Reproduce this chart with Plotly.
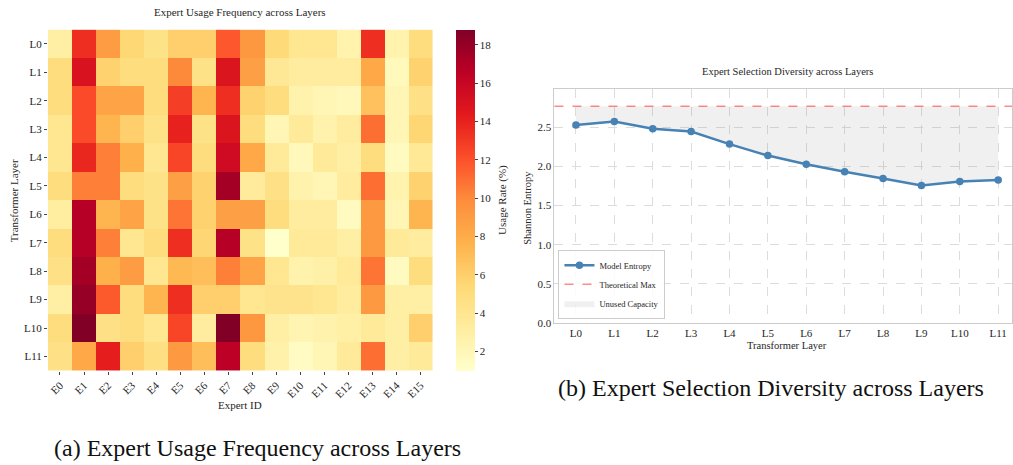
import plotly.graph_objects as go
import plotly.colors as pc
import math

W, H = 1013, 465

layers = [f"L{i}" for i in range(12)]
experts = [f"E{i}" for i in range(16)]

usage = [
    [3.0, 13.5, 9.0, 5.5, 4.5, 6.0, 6.0, 11.8, 9.3, 5.3, 4.0, 4.0, 2.5, 13.5, 2.5, 5.0],
    [5.0, 15.0, 5.8, 5.0, 5.0, 10.0, 4.5, 14.8, 8.8, 3.8, 3.3, 3.3, 3.3, 8.3, 1.8, 5.8],
    [5.0, 12.3, 8.5, 8.5, 5.0, 12.8, 7.5, 13.5, 5.8, 5.0, 2.6, 2.2, 1.9, 6.8, 2.2, 4.6],
    [4.0, 12.3, 7.5, 6.0, 4.5, 14.0, 4.5, 14.8, 5.0, 2.2, 3.6, 2.6, 3.3, 11.0, 2.2, 5.6],
    [4.0, 13.8, 10.4, 7.8, 4.0, 12.5, 5.0, 15.6, 8.3, 3.6, 1.9, 3.6, 3.0, 5.0, 1.6, 3.7],
    [5.0, 10.4, 10.4, 5.0, 4.5, 8.8, 5.8, 17.5, 3.5, 4.6, 2.6, 2.2, 3.3, 11.0, 2.5, 5.8],
    [3.2, 16.8, 7.5, 8.5, 4.5, 10.8, 5.8, 8.8, 8.8, 5.0, 3.3, 3.3, 1.6, 9.2, 2.2, 7.5],
    [5.0, 16.8, 10.4, 4.0, 5.0, 13.5, 5.6, 16.8, 4.5, 1.0, 3.6, 3.6, 3.0, 9.2, 3.6, 3.3],
    [4.6, 17.5, 7.8, 9.0, 4.0, 7.3, 7.0, 10.4, 8.5, 4.0, 2.6, 2.8, 3.6, 10.8, 1.6, 5.0],
    [3.0, 18.0, 11.7, 5.0, 7.5, 13.5, 6.0, 6.0, 4.0, 4.3, 4.3, 4.0, 3.3, 9.2, 3.0, 3.0],
    [5.0, 18.8, 4.6, 5.0, 4.0, 12.5, 3.3, 18.8, 9.3, 3.0, 2.3, 2.6, 2.9, 3.6, 3.0, 6.0],
    [4.6, 8.3, 14.2, 6.0, 4.8, 9.2, 7.0, 16.6, 5.0, 2.7, 1.5, 2.2, 3.6, 11.0, 3.0, 3.6],
]

entropy = [2.53, 2.576, 2.484, 2.447, 2.287, 2.14, 2.03, 1.932, 1.848, 1.757, 1.807, 1.828]
n_experts = len(experts)
max_entropy = math.log(n_experts)

cbar_ticks = [2, 4, 6, 8, 10, 12, 14, 16, 18]
entropy_ticks = [0.0, 0.5, 1.0, 1.5, 2.0, 2.5]

FONT = "Liberation Serif, Times New Roman, Times, serif"
TXT = "#262626"


def px(x):
    return x / W


def py(y):
    return 1 - y / H


fig = go.Figure()

# ---------- heatmap ----------
fig.add_trace(go.Heatmap(
    z=usage, x=experts, y=layers,
    colorscale=pc.sequential.YlOrRd,
    zmin=1.0, zmax=18.8,
    xaxis="x", yaxis="y",
    colorbar=dict(
        x=px(456), xanchor="left", xpad=0,
        y=(py(30) + py(375.5)) / 2, yanchor="middle",
        len=(375.5 - 30) / H, lenmode="fraction",
        thickness=19, thicknessmode="pixels",
        outlinewidth=0,
        tickvals=cbar_ticks, ticks="outside", ticklen=3, tickcolor="#444",
        tickfont=dict(family=FONT, size=11, color=TXT),
        ypad=0,
    ),
    hoverongaps=False,
))

# ---------- entropy chart ----------
fig.add_trace(go.Scatter(
    x=layers, y=[max_entropy] * len(layers),
    mode="lines", line=dict(width=0, color="rgba(0,0,0,0)"),
    showlegend=False, hoverinfo="skip",
    xaxis="x2", yaxis="y2",
))
fig.add_trace(go.Scatter(
    x=layers, y=entropy,
    mode="lines", line=dict(width=0, color="rgba(0,0,0,0)"),
    fill="tonexty", fillcolor="rgba(128,128,128,0.12)",
    name="Unused Capacity", legendrank=3,
    xaxis="x2", yaxis="y2",
))
fig.add_trace(go.Scatter(
    x=layers, y=entropy,
    mode="lines+markers",
    line=dict(color="#4682b4", width=2.5),
    marker=dict(color="#4682b4", size=7.5),
    name="Model Entropy", legendrank=1,
    xaxis="x2", yaxis="y2",
))

fig.add_shape(
    type="line", xref="x2 domain", yref="y2",
    x0=0, x1=1, y0=max_entropy, y1=max_entropy,
    line=dict(color="rgba(255,40,40,0.55)", width=1.5, dash="dash"),
    showlegend=True, name="Theoretical Max", legendrank=2,
)

axis_font = dict(family=FONT, size=11, color=TXT)

fig.update_layout(
    width=W, height=H, autosize=False,
    margin=dict(l=0, r=0, t=0, b=0),
    paper_bgcolor="white", plot_bgcolor="white",
    font=dict(family=FONT, color=TXT),
    xaxis=dict(
        domain=[px(48), px(433)], anchor="y",
        tickangle=-45, tickfont=axis_font,
        ticks="outside", ticklen=3, tickcolor="#444",
        showgrid=False, zeroline=False, showline=False,
    ),
    yaxis=dict(
        domain=[py(375.5), py(30)], anchor="x",
        categoryorder="array", categoryarray=layers[::-1],
        tickfont=axis_font,
        ticks="outside", ticklen=3, tickcolor="#444",
        showgrid=False, zeroline=False, showline=False,
    ),
    xaxis2=dict(
        domain=[px(555), 1.0], anchor="y2",
        range=[-0.56, 11.36],
        tickfont=axis_font,
        showgrid=True, gridcolor="#dcdcdc", gridwidth=0.8, griddash="dash",
        showline=True, linecolor="#cccccc", linewidth=1.2, mirror=True,
        zeroline=False, ticks="",
    ),
    yaxis2=dict(
        domain=[py(327), py(90)], anchor="x2",
        range=[0, max_entropy * 1.08],
        tickvals=entropy_ticks, tickformat=".1f",
        tickfont=axis_font,
        showgrid=True, gridcolor="#dcdcdc", gridwidth=0.8, griddash="dash",
        showline=True, linecolor="#cccccc", linewidth=1.2, mirror=True,
        zeroline=False, ticks="",
    ),
    legend=dict(
        x=px(559), y=py(323), xanchor="left", yanchor="bottom",
        bgcolor="rgba(255,255,255,0.85)", bordercolor="#cccccc", borderwidth=1,
        font=dict(family=FONT, size=8.5, color=TXT),
        tracegroupgap=0, itemwidth=30,
        traceorder="normal",
    ),
)

annotations = [
    dict(text="Expert Usage Frequency across Layers", x=px(240), y=py(12), size=11),
    dict(text="Expert ID", x=px(240), y=py(410), size=11),
    dict(text="Transformer Layer", x=px(14), y=py(203), size=11, angle=-90),
    dict(text="Usage Rate (%)", x=px(503), y=py(203), size=11, angle=-90),
    dict(text="(a) Expert Usage Frequency across Layers", x=px(258), y=py(454), size=24, color="#111"),
    dict(text="Expert Selection Diversity across Layers", x=px(788), y=py(72), size=10.5),
    dict(text="Transformer Layer", x=px(788), y=py(350), size=10.5),
    dict(text="Shannon Entropy", x=px(528), y=py(210), size=10.5, angle=-90),
    dict(text="(b) Expert Selection Diversity across Layers", x=px(772), y=py(393), size=24, color="#111"),
]
for a in annotations:
    fig.add_annotation(
        text=a["text"], xref="paper", yref="paper",
        x=a["x"], y=a["y"], xanchor="center", yanchor="middle",
        showarrow=False, textangle=a.get("angle", 0),
        font=dict(family=FONT, size=a["size"], color=a.get("color", TXT)),
    )

fig.write_html("out.html")
